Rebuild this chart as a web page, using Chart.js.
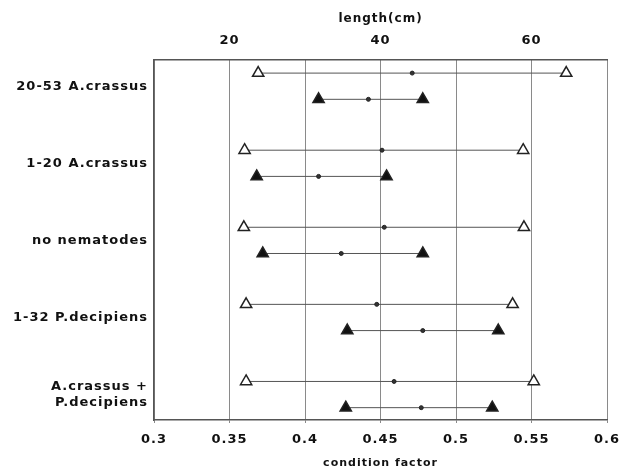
<!DOCTYPE html>
<html>
<head>
<meta charset="utf-8">
<script src="https://cdn.jsdelivr.net/npm/chart.js@4/dist/chart.umd.min.js"></script>
<style>
  html, body { margin: 0; padding: 0; background: #fff; }
  #wrap { width: 625px; height: 473px; }
</style>
</head>
<body>
<div id="wrap"><canvas id="chart" width="625" height="473"></canvas></div>
<script>
// groups, top to bottom
const categories = [
  '20-53 A.crassus',
  '1-20 A.crassus',
  'no nematodes',
  '1-32 P.decipiens',
  ['A.crassus +', 'P.decipiens']
];
// length (cm): open triangles, top axis
const lengthMin  = [23.8, 22.0, 21.9, 22.2, 22.2];
const lengthMean = [44.2, 40.2, 40.5, 39.5, 41.8];
const lengthMax  = [64.6, 58.9, 59.0, 57.5, 60.3];
// condition factor: filled triangles, bottom axis
const cfMin  = [0.409, 0.368, 0.372, 0.428, 0.427];
const cfMean = [0.442, 0.409, 0.424, 0.478, 0.477];
const cfMax  = [0.478, 0.454, 0.478, 0.528, 0.524];
const lengthTicks = [20, 40, 60];

const font = { family: 'DejaVu Sans, sans-serif', weight: 'bold' };

function row(min, mean, max, y, axis, filled) {
  return {
    xAxisID: axis,
    showLine: true,
    data: [{x: min, y: y}, {x: mean, y: y}, {x: max, y: y}],
    borderColor: '#555',
    borderWidth: 1,
    pointStyle: ['triangle', 'circle', 'triangle'],
    pointRadius: [6.5, 2, 6.5],
    pointBackgroundColor: filled ? ['#111', '#333', '#111'] : ['#fff', '#333', '#fff'],
    pointBorderColor: '#222',
    pointBorderWidth: [1.5, 1, 1.5]
  };
}

let datasets = [];
categories.forEach(function(c, i) {
  datasets.push(row(lengthMin[i], lengthMean[i], lengthMax[i], i - 0.17, 'x2', false));
  datasets.push(row(cfMin[i], cfMean[i], cfMax[i], i + 0.17, 'x', true));
});

// the scanned lettering is wide, spread it a little
const wideText = {
  id: 'wideText',
  beforeLayout: function(chart) { chart.ctx.letterSpacing = '1px'; },
  beforeDraw: function(chart) { chart.ctx.letterSpacing = '1px'; }
};

function fixX(h) {
  return function(s) { s.height = h; s.paddingLeft = 0; s.paddingRight = 0; };
}

new Chart(document.getElementById('chart').getContext('2d'), {
  type: 'scatter',
  data: { datasets: datasets },
  plugins: [wideText],
  options: {
    responsive: false,
    animation: false,
    layout: { padding: { left: 0, right: 18, top: 0, bottom: 0 } },
    plugins: { legend: { display: false }, tooltip: { enabled: false } },
    scales: {
      x: {
        type: 'linear',
        position: 'bottom',
        min: 0.3,
        max: 0.6,
        ticks: {
          stepSize: 0.05,
          color: '#111',
          font: Object.assign({ size: 13 }, font),
          padding: 9,
          callback: function(v) { return +v.toFixed(2); }
        },
        grid: { color: '#8a8a8a', lineWidth: 1, tickLength: 3 },
        border: { display: true, color: '#555', width: 1.5 },
        title: {
          display: true,
          text: 'condition factor',
          color: '#111',
          font: Object.assign({ size: 11 }, font),
          padding: { top: 4, bottom: 3 }
        },
        afterFit: fixX(53)
      },
      x2: {
        type: 'linear',
        position: 'top',
        min: 10,
        max: 70,
        afterBuildTicks: function(s) { s.ticks = lengthTicks.map(function(v) { return { value: v }; }); },
        ticks: { color: '#111', font: Object.assign({ size: 13 }, font), padding: 12 },
        grid: { display: false, drawTicks: false, tickLength: 0 },
        border: { display: true, color: '#555', width: 1.5 },
        title: {
          display: true,
          text: 'length(cm)',
          color: '#111',
          font: Object.assign({ size: 12 }, font),
          padding: { top: 12, bottom: 0 }
        },
        afterFit: fixX(60)
      },
      y: {
        type: 'linear',
        reverse: true,
        min: -0.34,
        max: 4.33,
        afterBuildTicks: function(s) { s.ticks = categories.map(function(c, i) { return { value: i }; }); },
        ticks: {
          color: '#111',
          font: Object.assign({ size: 13 }, font),
          padding: 6,
          callback: function(v) { return categories[Math.round(v)]; }
        },
        grid: { display: false, drawTicks: false, tickLength: 0 },
        border: { display: true, color: '#555', width: 1.5 },
        afterFit: function(s) { s.width = 154; }
      }
    }
  }
});
</script>
</body>
</html>
